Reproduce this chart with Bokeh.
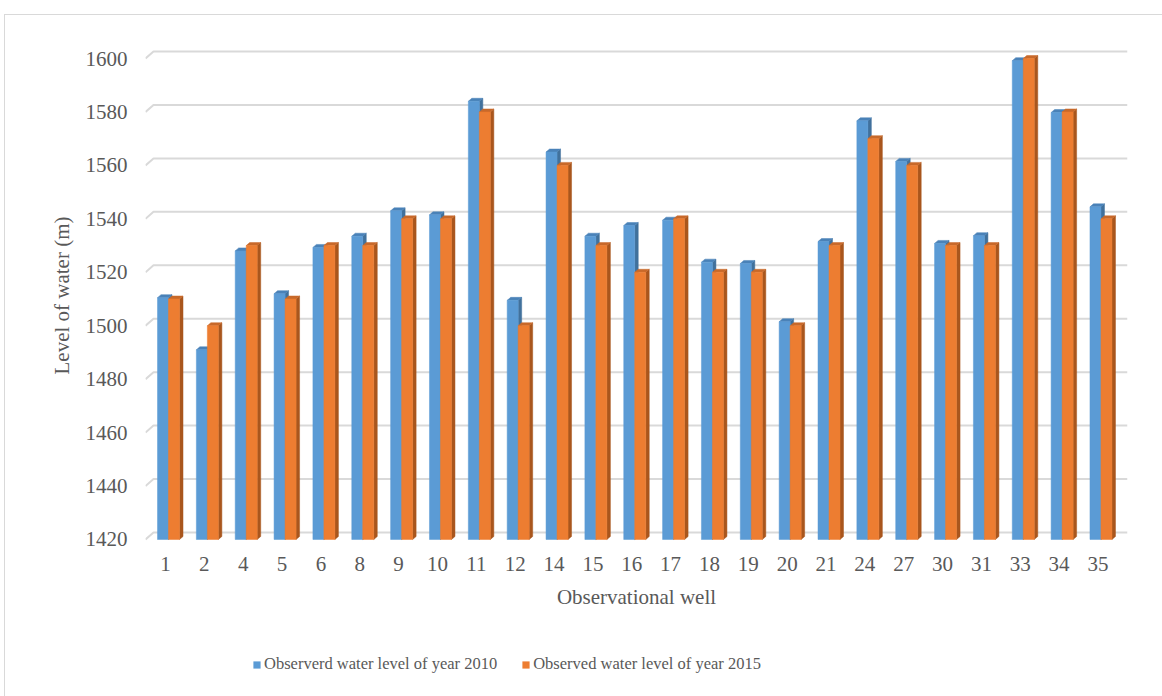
import numpy as np
from bokeh.plotting import figure
from bokeh.layouts import column
from bokeh.models import Range1d, FixedTicker, Legend, LegendItem
from bokeh.embed import file_html
from bokeh.resources import INLINE

# ---------------- data ----------------
wells = ["1", "2", "4", "5", "6", "8", "9", "10", "11", "12", "14", "15", "16",
         "17", "18", "19", "20", "21", "24", "27", "30", "31", "33", "34", "35"]
level_2010 = [1510.5, 1491, 1528, 1512, 1529.3, 1533.5, 1543, 1541.5, 1584, 1509.5,
              1565, 1533.5, 1537.5, 1539.5, 1523.8, 1523.3, 1501.5, 1531.5, 1576.7,
              1561.5, 1530.8, 1533.7, 1599.2, 1579.8, 1544.5]
level_2015 = [1510, 1500, 1530, 1510, 1530, 1530, 1540, 1540, 1580, 1500,
              1560, 1530, 1520, 1540, 1520, 1520, 1500, 1530, 1570,
              1560, 1530, 1530, 1600, 1580, 1540]
y_ticks = [1420, 1440, 1460, 1480, 1500, 1520, 1540, 1560, 1580, 1600]
series_names = ["Observerd water level of year 2010", "Observed water level of year 2015"]

# ---------------- styling ----------------
BLUE, BLUE_SIDE, BLUE_TOP = "#5B9BD5", "#41719C", "#4A82B8"
ORANGE, ORANGE_SIDE, ORANGE_TOP = "#ED7D31", "#A9561D", "#C8692A"
TEXT = "#595959"
FONT = "Liberation Serif"
BORDER = "#D9D9D9"

# page offsets: chart-area border at x=4, y=14 (1px)
OFF_X, OFF_Y = 5, 15
FRAME_W, FRAME_H = 982, 500
x0, x1 = -0.515, 24.76
y0, y1 = 1417.75, 1604.87
px_x = FRAME_W / (x1 - x0)
px_y = FRAME_H / (y1 - y0)

p = figure(width=1157, height=625, frame_width=FRAME_W, frame_height=FRAME_H,
           x_range=Range1d(x0, x1), y_range=Range1d(y0, y1),
           min_border_left=145 - OFF_X, min_border_right=1162 - 145 - FRAME_W - OFF_X,
           min_border_top=45 - OFF_Y, min_border_bottom=640 - 545,
           output_backend="svg", toolbar_location=None, tools="")
p.outline_line_color = None
p.grid.visible = False
p.background_fill_color = "white"
p.border_fill_color = "white"

# gridlines with a 3D slant at the left end
gdx, gdy = 8 / px_x, 7 / px_y
gxs = [[x0, x0 + gdx, x1] for _ in y_ticks]
gys = [[t, t + gdy, t + gdy] for t in y_ticks]
p.multi_line(gxs, gys, line_color="#D9D9D9", line_width=2)

# 3D bars
c = np.arange(len(wells), dtype=float)
ddx, ddy = 3.5 / px_x, 3.0 / px_y
base = y_ticks[0]

def bar3d(fig, left, right, vals, front, side, top):
    sxs = [[r, r + ddx, r + ddx, r] for r in right]
    sys_ = [[base, base + ddy, v + ddy, v] for v in vals]
    fig.patches(sxs, sys_, fill_color=side, line_color=side, line_width=0.5)
    txs = [[l, l + ddx, r + ddx, r] for l, r in zip(left, right)]
    tys = [[v, v + ddy, v + ddy, v] for v in vals]
    fig.patches(txs, tys, fill_color=top, line_color=top, line_width=0.5)
    return fig.quad(left=left, right=right, bottom=base, top=vals,
                    fill_color=front, line_color=front, line_width=0.5)

b_left = c - 8 / px_x
b_right = c + 3 / px_x
o_right = c + 14 / px_x
bar3d(p, b_left, b_right, level_2010, BLUE, BLUE_SIDE, BLUE_TOP)
bar3d(p, b_right, o_right, level_2015, ORANGE, ORANGE_SIDE, ORANGE_TOP)

# axes
for ax in (p.xaxis[0], p.yaxis[0]):
    ax.axis_line_color = None
    ax.major_tick_line_color = None
    ax.minor_tick_line_color = None
    ax.major_label_text_font = FONT
    ax.major_label_text_color = TEXT
    ax.major_label_text_font_size = "21px"
    ax.axis_label_text_font = FONT
    ax.axis_label_text_color = TEXT
    ax.axis_label_text_font_size = "21px"
    ax.axis_label_text_font_style = "normal"

p.xaxis.ticker = FixedTicker(ticks=list(range(len(wells))))
p.xaxis.major_label_overrides = {i: w for i, w in enumerate(wells)}
p.xaxis.major_label_standoff = 5
p.xaxis.axis_label = "Observational well"
p.xaxis.axis_label_standoff = 11

p.yaxis.ticker = FixedTicker(ticks=y_ticks)
p.yaxis.major_label_standoff = 12
p.yaxis.axis_label = "Level of water (m)"
p.yaxis.axis_label_standoff = 9

# legend strip below the chart (its bars fall outside this strip's range,
# only the legend swatches are shown)
q = figure(width=1157, height=56, x_range=Range1d(0, 1), y_range=Range1d(0, 1),
           min_border=0, output_backend="svg", toolbar_location=None, tools="")
q.outline_line_color = None
q.axis.visible = False
q.grid.visible = False
q.background_fill_color = "white"
q.border_fill_color = "white"
lb = q.quad(left=b_left, right=b_right, bottom=base, top=level_2010,
            fill_color=BLUE, line_color=None)
lo = q.quad(left=b_right, right=o_right, bottom=base, top=level_2015,
            fill_color=ORANGE, line_color=None)
legend = Legend(items=[LegendItem(label=series_names[0], renderers=[lb]),
                       LegendItem(label=series_names[1], renderers=[lo])],
                orientation="horizontal", location=(252 - 145, 56 - 34))
legend.label_text_font = FONT
legend.label_text_font_size = "16.5px"
legend.label_text_color = TEXT
legend.label_height = 20
legend.glyph_width = 9
legend.glyph_height = 9
legend.label_standoff = 3
legend.spacing = 24
legend.padding = 0
legend.margin = 0
legend.border_line_color = None
legend.background_fill_alpha = 0
q.add_layout(legend, "center")

layout = column(p, q, margin=(OFF_Y - 1, 0, 0, OFF_X - 1),
                styles={"border-top": "1px solid " + BORDER, "border-left": "1px solid " + BORDER})

open("out.html", "w").write(file_html(layout, INLINE))
